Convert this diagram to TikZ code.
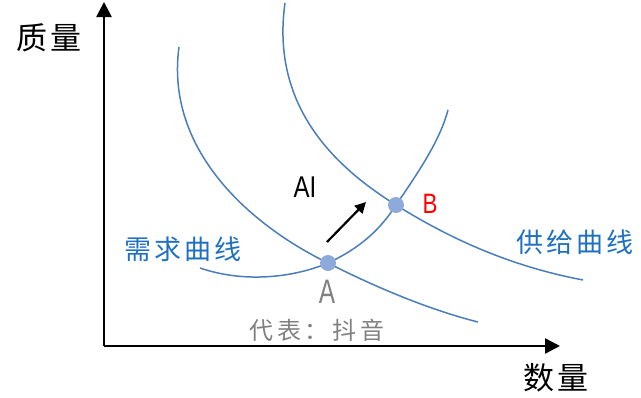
\documentclass[tikz,border=0pt]{standalone}
\usepackage{fontspec}
\setmainfont{Noto Sans CJK SC}
\newfontfamily\cjk{Noto Sans CJK SC}
\newfontfamily\latinf{Liberation Sans}
\usetikzlibrary{arrows.meta}
\definecolor{curveblue}{HTML}{4A7EBB}
\definecolor{labelblue}{HTML}{1F70C1}
\definecolor{dotblue}{HTML}{8EAADB}
\definecolor{graytxt}{HTML}{808080}
\begin{document}
\begin{tikzpicture}[x=1pt,y=-1pt,
  axis/.style={line width=2.6pt,-{Triangle[length=15pt,width=15pt]}},
  curve/.style={curveblue,line width=1.5pt},
  dot/.style={circle,fill=dotblue,inner sep=0pt,minimum size=16pt},
  lbl/.style={inner sep=0pt,font=\cjk},
  mover/.style={line width=2.2pt,-{Triangle[length=11pt,width=11pt]}}]
\useasboundingbox (0,0) rectangle (641,397);
% axes
\coordinate (O) at (104,346);
\coordinate (Ytip) at (104,2);
\coordinate (Xtip) at (560,346);
\draw[axis] (O) -- (Ytip);
\draw[axis] (O) -- (Xtip);
% key points
\coordinate (A) at (328,263);
\coordinate (B) at (396,205);
% curve 1 (through A)
\draw[curve] (179,47) .. controls (165,150) and (250,225) .. (A)
  .. controls (375,287) and (430,310) .. (478,322);
% curve 2 (through B)
\draw[curve] (285,3) .. controls (270,110) and (340,170) .. (B)
  .. controls (460,245) and (520,268) .. (583,280);
% curve 3 (through A and B)
\draw[curve] (200,268) .. controls (250,285) and (300,275) .. (A)
  .. controls (360,248) and (380,230) .. (B)
  .. controls (420,170) and (440,140) .. (448,110);
% dots
\node[dot] (dA) at (A) {};
\node[dot] (dB) at (B) {};
% arrow
\coordinate (arrS) at (327,242);
\coordinate (arrE) at (366,202);
\draw[mover] (arrS) -- (arrE);
% labels
\node[lbl,font=\cjk\fontsize{31}{31}\selectfont\addfontfeature{LetterSpace=10}] (yl) at (49,38) {质量};
\node[lbl,font=\cjk\fontsize{31}{31}\selectfont\addfontfeature{LetterSpace=10}] (xl) at (556,378) {数量};
\node[lbl,font=\cjk\fontsize{27}{27}\selectfont\addfontfeature{LetterSpace=12},text=labelblue] (dl) at (183,249) {需求曲线};
\node[lbl,font=\cjk\fontsize{27}{27}\selectfont\addfontfeature{LetterSpace=12},text=labelblue] (sl) at (575,242) {供给曲线};
\node[lbl,font=\cjk\fontsize{24}{24}\selectfont\addfontfeature{LetterSpace=16},text=graytxt] (wm) at (317,330) {代表：抖音};
\node[lbl,font=\latinf\fontsize{34}{34}\selectfont,text=graytxt,xscale=0.72] (la) at (327,292) {A};
\node[lbl,font=\latinf\fontsize{28}{28}\selectfont,text=red,xscale=0.8] (lb) at (430,204) {B};
\node[lbl,font=\latinf\fontsize{30}{30}\selectfont,xscale=0.8] (lai) at (305,187) {AI};
\end{tikzpicture}
\end{document}
